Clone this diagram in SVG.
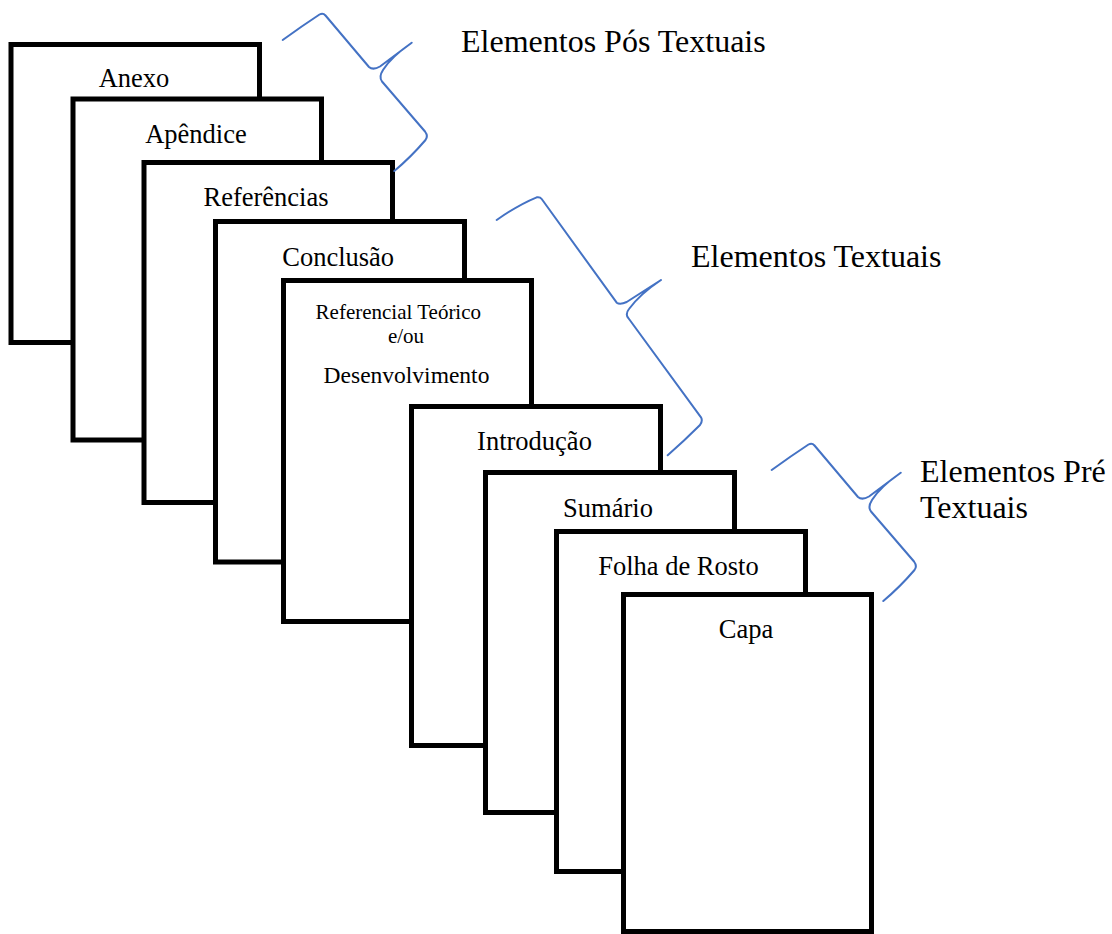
<svg xmlns="http://www.w3.org/2000/svg" width="1112" height="934" viewBox="0 0 1112 934">
<style>
.page{fill:#fff;stroke:#000;stroke-width:5}
.t{font-family:"Liberation Serif","Times New Roman",serif;font-size:26.5px;fill:#000;text-anchor:middle}
.s{font-size:21px}
.lbl{font-family:"Liberation Serif","Times New Roman",serif;font-size:32px;fill:#000}
.brace{fill:none;stroke:#4472C4;stroke-width:2;stroke-linejoin:round;stroke-linecap:round}
</style>
<defs>
<path id="braceSmall" class="brace" d="M282.7,40 Q302,26 319.5,14.5 Q323,12.5 325.5,15.5 L369,67 Q373,70.5 380,66.5 L411.7,42.7 Q391,57 383,70 Q378.5,77 382,81.5 L425,131.5 Q428.5,136 425.5,140 Q411,157 394.3,171"/>
</defs>
<rect width="1112" height="934" fill="#fff"/>
<g id="anexo"><rect class="page" x="11" y="44.5" width="248.5" height="298"/><text class="t" x="134" y="86.7">Anexo</text></g>
<g id="apendice"><rect class="page" x="73" y="99" width="248.5" height="341"/><text class="t" x="196" y="143.3">Apêndice</text></g>
<g id="referencias"><rect class="page" x="144" y="162.5" width="248.5" height="340"/><text class="t" x="266" y="206">Referências</text></g>
<g id="conclusao"><rect class="page" x="215.5" y="221.5" width="249" height="340.5"/><text class="t" x="338.2" y="266">Conclusão</text></g>
<g id="referencial"><rect class="page" x="283.5" y="280.5" width="248" height="341"/><text class="t s" x="398.3" y="319">Referencial Teórico</text><text class="t s" x="406" y="343.3">e/ou</text><text class="t" style="font-size:23.5px" x="406.5" y="382.7">Desenvolvimento</text></g>
<g id="introducao"><rect class="page" x="411.5" y="406.5" width="249" height="339"/><text class="t" x="534.5" y="450">Introdução</text></g>
<g id="sumario"><rect class="page" x="485.5" y="472.5" width="249" height="340"/><text class="t" x="608" y="516.7">Sumário</text></g>
<g id="folha"><rect class="page" x="556.5" y="531.5" width="249" height="340"/><text class="t" x="678.5" y="575">Folha de Rosto</text></g>
<g id="capa"><rect class="page" x="623.5" y="594.5" width="248" height="337"/><text class="t" x="746" y="638.3">Capa</text></g>
<g id="connectors">
<use href="#braceSmall"/>
<path class="brace" d="M496.7,220 Q518,205 536.7,197.3 Q540,196.7 541.7,199 L616.7,302.7 Q620,305 626.7,302 L661,280 Q640,294 629,309 Q625,314 628.3,318 L701,417.3 Q703,420.7 700,425 Q684,441 667.7,455.3"/>
<use href="#braceSmall" transform="translate(489 430)"/>
</g>
<g id="labels">
<text class="lbl" x="461" y="52">Elementos Pós Textuais</text>
<text class="lbl" x="691" y="267.3">Elementos Textuais</text>
<text class="lbl" x="920" y="481.7">Elementos Pré</text>
<text class="lbl" x="920" y="518.3">Textuais</text>
</g>
</svg>
